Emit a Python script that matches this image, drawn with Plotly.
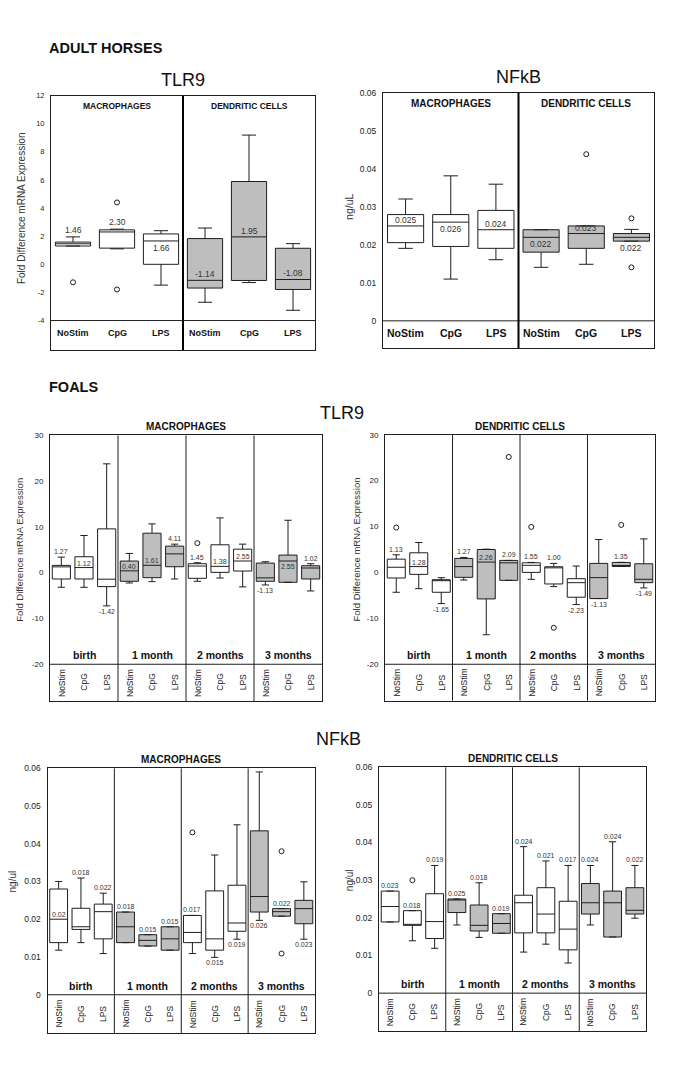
import plotly.graph_objects as go

W, H = 685, 1088
FONT = "Liberation Sans, Arial, sans-serif"
GRAY = "#bebebe"
INK = "#1e1e1e"

# ---------------- DATA ----------------
adult_cats = ["NoStim", "CpG", "LPS", "NoStim", "CpG", "LPS"]
adult_sections = ["MACROPHAGES", "DENDRITIC CELLS"]
foal_groups = ["birth", "1 month", "2 months", "3 months"]
foal_cats = ["NoStim", "CpG", "LPS"]

# Adult horses - TLR9 (fold difference)
a_tlr9_q1 = [1.30, 1.15, 0.00, -1.69, -1.15, -1.79]
a_tlr9_med = [1.46, 2.30, 1.66, -1.14, 1.95, -1.08]
a_tlr9_q3 = [1.58, 2.45, 2.16, 1.83, 5.89, 1.14]
a_tlr9_lo = [1.30, 1.10, -1.48, -2.70, -1.30, -3.27]
a_tlr9_hi = [1.95, 2.50, 2.39, 2.58, 9.19, 1.47]
a_tlr9_out_idx = [0, 1, 1]
a_tlr9_out_val = [-1.28, 4.40, -1.79]
a_tlr9_labels = ["1.46", "2.30", "1.66", "-1.14", "1.95", "-1.08"]
a_tlr9_ticks = [12, 10, 8, 6, 4, 2, 0, -2, -4]

# Adult horses - NFkB (ng/uL)
a_nfkb_q1 = [0.0206, 0.0196, 0.0191, 0.0181, 0.0191, 0.0210]
a_nfkb_med = [0.025, 0.026, 0.024, 0.022, 0.023, 0.022]
a_nfkb_q3 = [0.0280, 0.0280, 0.0291, 0.0240, 0.0250, 0.0230]
a_nfkb_lo = [0.0191, 0.0110, 0.0161, 0.0141, 0.0149, 0.0210]
a_nfkb_hi = [0.0321, 0.0382, 0.0360, 0.0240, 0.0250, 0.0241]
a_nfkb_out_idx = [4, 5, 5]
a_nfkb_out_val = [0.0439, 0.0270, 0.0141]
a_nfkb_labels = ["0.025", "0.026", "0.024", "0.022", "0.023", "0.022"]
nfkb_ticks = [0.06, 0.05, 0.04, 0.03, 0.02, 0.01, 0]

# Foals - TLR9 macrophages
f_tlr9_mac_q1 = [-1.38, -1.38, -3.04, -1.88, -1.09, 1.30, -1.23, 0.07, 0.36, -1.88, -2.10, -1.38]
f_tlr9_mac_med = [1.27, 1.12, -1.42, 0.40, 1.61, 4.11, 1.45, 1.38, 2.55, -1.13, 2.55, 1.02]
f_tlr9_mac_q3 = [1.59, 3.48, 9.57, 2.54, 8.62, 5.80, 1.96, 6.09, 5.14, 2.10, 3.84, 1.52]
f_tlr9_mac_lo = [-3.19, -3.19, -7.25, -2.25, -1.96, -1.38, -1.88, -1.16, -3.10, -2.68, -2.10, -3.99]
f_tlr9_mac_hi = [3.40, 8.12, 23.77, 4.20, 10.65, 6.23, 2.17, 11.96, 6.23, 2.39, 11.45, 1.96]
f_tlr9_mac_out_idx = [6]
f_tlr9_mac_out_val = [6.45]
f_tlr9_mac_labels = ["1.27", "1.12", "-1.42", "0.40", "1.61", "4.11", "1.45", "1.38", "2.55", "-1.13", "2.55", "1.02"]

# Foals - TLR9 dendritic cells
f_tlr9_dc_q1 = [-1.21, -0.42, -4.32, -1.07, -5.77, -1.72, 0.01, -2.51, -5.40, -5.69, 1.31, -2.23]
f_tlr9_dc_med = [1.13, 1.28, -1.65, 1.27, 2.26, 2.09, 1.55, 1.00, -2.23, -1.13, 1.35, -1.49]
f_tlr9_dc_q3 = [2.90, 4.28, -1.58, 3.05, 5.00, 2.62, 2.10, 1.24, -1.36, 1.97, 2.18, 1.89]
f_tlr9_dc_lo = [-4.32, -3.53, -6.78, -1.65, -13.57, -1.72, -1.50, -3.09, -7.00, -5.69, 1.31, -3.38]
f_tlr9_dc_hi = [3.84, 6.52, -1.14, 3.27, 5.07, 2.62, 2.18, 1.97, 1.39, 7.17, 2.20, 7.31]
f_tlr9_dc_out_idx = [0, 5, 6, 7, 10]
f_tlr9_dc_out_val = [9.77, 25.16, 9.91, -12.05, 10.35]
f_tlr9_dc_labels = ["1.13", "1.28", "-1.65", "1.27", "2.26", "2.09", "1.55", "1.00", "-2.23", "-1.13", "1.35", "-1.49"]
tlr9_foal_ticks = [30, 20, 10, 0, -10, -20]

# Foals - NFkB macrophages
f_nfkb_mac_q1 = [0.0138, 0.0173, 0.0148, 0.0138, 0.0129, 0.0118, 0.0138, 0.0118, 0.0168, 0.0219, 0.0208, 0.0188]
f_nfkb_mac_med = [0.020, 0.018, 0.022, 0.018, 0.0144, 0.0148, 0.0165, 0.0148, 0.019, 0.026, 0.022, 0.0228]
f_nfkb_mac_q3 = [0.0280, 0.0229, 0.0240, 0.0219, 0.0159, 0.0180, 0.0210, 0.0275, 0.0290, 0.0434, 0.0228, 0.0250]
f_nfkb_mac_lo = [0.0118, 0.0138, 0.0109, 0.0138, 0.0129, 0.0118, 0.0109, 0.0099, 0.0147, 0.0197, 0.0208, 0.0147]
f_nfkb_mac_hi = [0.0300, 0.0309, 0.0269, 0.0219, 0.0159, 0.0180, 0.0210, 0.0370, 0.0450, 0.0590, 0.0228, 0.0299]
f_nfkb_mac_out_idx = [6, 10, 10]
f_nfkb_mac_out_val = [0.0430, 0.0380, 0.0109]
f_nfkb_mac_labels = ["0.02", "0.018", "0.022", "0.018", "0.015", "0.015", "0.017", "0.015", "0.019", "0.026", "0.022", "0.023"]

# Foals - NFkB dendritic cells
f_nfkb_dc_q1 = [0.0189, 0.0180, 0.0145, 0.0214, 0.0165, 0.0159, 0.0160, 0.0160, 0.0115, 0.0210, 0.0149, 0.0210]
f_nfkb_dc_med = [0.023, 0.018, 0.019, 0.025, 0.018, 0.0185, 0.024, 0.021, 0.017, 0.024, 0.024, 0.022]
f_nfkb_dc_q3 = [0.0271, 0.0219, 0.0264, 0.0250, 0.0234, 0.0211, 0.0260, 0.0280, 0.0244, 0.0291, 0.0271, 0.0280]
f_nfkb_dc_lo = [0.0189, 0.0139, 0.0119, 0.0181, 0.0148, 0.0159, 0.0109, 0.0130, 0.0080, 0.0181, 0.0149, 0.0199]
f_nfkb_dc_hi = [0.0271, 0.0219, 0.0339, 0.0250, 0.0293, 0.0211, 0.0389, 0.0351, 0.0339, 0.0339, 0.0402, 0.0339]
f_nfkb_dc_out_idx = [1]
f_nfkb_dc_out_val = [0.0300]
f_nfkb_dc_labels = ["0.023", "0.018", "0.019", "0.025", "0.018", "0.019", "0.024", "0.021", "0.017", "0.024", "0.024", "0.022"]

# label placement relative to the box (style hints)
a_tlr9_lpos = ["top", "top", "med_dn", "med_up", "med_up", "med_up"]
a_nfkb_lpos = ["med_up", "med_dn", "med_up", "med_dn", "med_up", "bot"]
f_tlr9_mac_lpos = ["top", "med_up", "bot", "med_up", "med_up", "top", "top", "med_up", "med_up", "bot", "med_dn", "top"]
f_tlr9_dc_lpos = ["top", "med_up", "bot", "top", "med_up", "top", "top", "top", "bot", "bot", "top", "bot"]
f_nfkb_mac_lpos = ["med_up", "top", "top", "top", "top", "top", "top", "bot", "bot", "bot", "top", "bot"]
f_nfkb_dc_lpos = ["top"] * 12

# ---------------- PANELS (pixel geometry) ----------------
adult_fill = ["white"] * 3 + [GRAY] * 3
foal_fill = [("white" if (i // 3) % 2 == 0 else GRAY) for i in range(12)]


def fmt_tick(v):
    if isinstance(v, float):
        return ("%g" % v)
    return str(v)


panels = [
    dict(kind="adult", left=51, right=315, top=91, base=317, bottom=347, vtop=12, vbase=-4,
         q1=a_tlr9_q1, med=a_tlr9_med, q3=a_tlr9_q3, lo=a_tlr9_lo, hi=a_tlr9_hi,
         oi=a_tlr9_out_idx, ov=a_tlr9_out_val, labels=a_tlr9_labels, lpos=a_tlr9_lpos,
         ticks=a_tlr9_ticks, tfs=7.5, lfs=8.5, cfs=9, sfs=8.5,
         ytitle="Fold Difference mRNA Expression", ytx=21, yty=4, ytfs=10),
    dict(kind="adult", left=383, right=654, top=88.5, base=317.3, bottom=345, vtop=0.06, vbase=0,
         q1=a_nfkb_q1, med=a_nfkb_med, q3=a_nfkb_q3, lo=a_nfkb_lo, hi=a_nfkb_hi,
         oi=a_nfkb_out_idx, ov=a_nfkb_out_val, labels=a_nfkb_labels, lpos=a_nfkb_lpos,
         ticks=nfkb_ticks, tfs=8.5, lfs=8.5, cfs=10.5, sfs=10,
         ytitle="ng/uL", ytx=349, yty=0.03, ytfs=10.5),
    dict(kind="foal", left=50, right=322, top=432.3, base=662.3, bottom=699.3, vtop=30, vbase=-20,
         q1=f_tlr9_mac_q1, med=f_tlr9_mac_med, q3=f_tlr9_mac_q3, lo=f_tlr9_mac_lo, hi=f_tlr9_mac_hi,
         oi=f_tlr9_mac_out_idx, ov=f_tlr9_mac_out_val, labels=f_tlr9_mac_labels, lpos=f_tlr9_mac_lpos,
         ticks=tlr9_foal_ticks, tfs=8, lfs=7, cfs=8.5, sfs=10, section="MACROPHAGES",
         ytitle="Fold Difference mRNA Expression", ytx=20, yty=5, ytfs=9.5),
    dict(kind="foal", left=385, right=655, top=431.7, base=662.3, bottom=699, vtop=30, vbase=-20,
         q1=f_tlr9_dc_q1, med=f_tlr9_dc_med, q3=f_tlr9_dc_q3, lo=f_tlr9_dc_lo, hi=f_tlr9_dc_hi,
         oi=f_tlr9_dc_out_idx, ov=f_tlr9_dc_out_val, labels=f_tlr9_dc_labels, lpos=f_tlr9_dc_lpos,
         ticks=tlr9_foal_ticks, tfs=8, lfs=7, cfs=8.5, sfs=10, section="DENDRITIC CELLS",
         ytitle="Fold Difference mRNA Expression", ytx=356, yty=5, ytfs=9.5),
    dict(kind="foal", left=47.5, right=315, top=766.7, base=994.3, bottom=1032.7, vtop=0.06, vbase=0,
         q1=f_nfkb_mac_q1, med=f_nfkb_mac_med, q3=f_nfkb_mac_q3, lo=f_nfkb_mac_lo, hi=f_nfkb_mac_hi,
         oi=f_nfkb_mac_out_idx, ov=f_nfkb_mac_out_val, labels=f_nfkb_mac_labels, lpos=f_nfkb_mac_lpos,
         ticks=nfkb_ticks, tfs=8.5, lfs=7, cfs=8.5, sfs=10, section="MACROPHAGES",
         ytitle="ng/ul", ytx=12, yty=0.03, ytfs=10),
    dict(kind="foal", left=379, right=646, top=765.7, base=992.7, bottom=1031, vtop=0.06, vbase=0,
         q1=f_nfkb_dc_q1, med=f_nfkb_dc_med, q3=f_nfkb_dc_q3, lo=f_nfkb_dc_lo, hi=f_nfkb_dc_hi,
         oi=f_nfkb_dc_out_idx, ov=f_nfkb_dc_out_val, labels=f_nfkb_dc_labels, lpos=f_nfkb_dc_lpos,
         ticks=nfkb_ticks, tfs=8.5, lfs=7, cfs=8.5, sfs=10, section="DENDRITIC CELLS",
         ytitle="ng/ul", ytx=349, yty=0.03, ytfs=10),
]

fig = go.Figure()
axes = {}
annotations = []
shapes = []

for k, P in enumerate(panels, start=1):
    xa = "x" if k == 1 else f"x{k}"
    ya = "y" if k == 1 else f"y{k}"
    n = len(P["q1"])
    ppu = (P["base"] - P["top"]) / (P["vtop"] - P["vbase"])
    vbot = P["vbase"] - (P["bottom"] - P["base"]) / ppu

    axes[f"xaxis{k}"] = dict(domain=[P["left"] / W, P["right"] / W], range=[0, n],
                             showticklabels=False, showgrid=False, zeroline=False,
                             showline=True, mirror=True, linecolor=INK, linewidth=1,
                             ticks="", anchor=ya, fixedrange=True)
    axes[f"yaxis{k}"] = dict(domain=[1 - P["bottom"] / H, 1 - P["top"] / H], range=[vbot, P["vtop"]],
                             tickvals=P["ticks"], ticktext=[fmt_tick(v) for v in P["ticks"]],
                             showgrid=False, zeroline=False, showline=True, mirror=True,
                             linecolor=INK, linewidth=1, ticks="outside", ticklen=4,
                             tickcolor="rgba(0,0,0,0)",
                             tickfont=dict(size=P["tfs"], color="#222", family=FONT),
                             anchor=xa, fixedrange=True)

    fills = adult_fill if P["kind"] == "adult" else foal_fill
    for i in range(n):
        fig.add_trace(go.Box(
            x=[i + 0.5], q1=[P["q1"][i]], median=[P["med"][i]], q3=[P["q3"][i]],
            lowerfence=[P["lo"][i]], upperfence=[P["hi"][i]],
            width=0.8, whiskerwidth=0.4, fillcolor=fills[i],
            line=dict(color=INK, width=1), boxpoints=False,
            xaxis=xa, yaxis=ya, showlegend=False, hoverinfo="skip"))
    fig.add_trace(go.Scatter(
        x=[j + 0.5 for j in P["oi"]], y=P["ov"], mode="markers",
        marker=dict(symbol="circle-open", size=5, color=INK, line=dict(width=1)),
        xaxis=xa, yaxis=ya, showlegend=False, hoverinfo="skip"))

    # median labels
    for i in range(n):
        mode = P["lpos"][i]
        if mode == "top":
            yv, anc, sh = P["hi"][i], "bottom", 0
        elif mode == "med_up":
            yv, anc, sh = P["med"][i], "bottom", -1
        elif mode == "med_dn":
            yv, anc, sh = P["med"][i], "top", 0
        else:
            yv, anc, sh = P["lo"][i], "top", 0
        annotations.append(dict(x=i + 0.5, y=yv, xref=xa, yref=ya, text=P["labels"][i],
                                showarrow=False, xanchor="center", yanchor=anc, yshift=sh,
                                font=dict(size=P["lfs"], color="#333", family=FONT)))

    # baseline separating the category strip
    shapes.append(dict(type="line", xref=xa, yref=ya, x0=0, x1=n, y0=P["vbase"], y1=P["vbase"],
                       line=dict(color=INK, width=1)))

    ymid = (P["vbase"] + vbot) / 2
    if P["kind"] == "adult":
        shapes.append(dict(type="line", xref=xa, yref=ya, x0=3, x1=3, y0=vbot, y1=P["vtop"],
                           line=dict(color="black", width=2)))
        for i, c in enumerate(adult_cats):
            annotations.append(dict(x=i + 0.5, y=ymid, xref=xa, yref=ya, text=f"<b>{c}</b>",
                                    showarrow=False, xanchor="center", yshift=2,
                                    font=dict(size=P["cfs"], color="#111", family=FONT)))
        for s, name in enumerate(adult_sections):
            annotations.append(dict(x=3 * s + 1.5, y=P["vtop"], xref=xa, yref=ya,
                                    text=f"<b>{name}</b>", showarrow=False, xanchor="center",
                                    yanchor="top", yshift=-3,
                                    font=dict(size=P["sfs"], color="#111", family=FONT)))
    else:
        for g in (3, 6, 9):
            shapes.append(dict(type="line", xref=xa, yref=ya, x0=g, x1=g, y0=vbot, y1=P["vtop"],
                               line=dict(color=INK, width=1)))
        for g, name in enumerate(foal_groups):
            annotations.append(dict(x=3 * g + 1.5, y=P["vbase"], xref=xa, yref=ya,
                                    text=f"<b>{name}</b>", showarrow=False, xanchor="center",
                                    yanchor="bottom", yshift=1,
                                    font=dict(size=10.5, color="#111", family=FONT)))
        for i in range(n):
            annotations.append(dict(x=i + 0.5, y=ymid, xref=xa, yref=ya, text=foal_cats[i % 3],
                                    showarrow=False, textangle=-90, xanchor="center",
                                    font=dict(size=P["cfs"], color="#222", family=FONT)))
        annotations.append(dict(x=n / 2, y=P["vtop"], xref=xa, yref=ya,
                                text=f"<b>{P['section']}</b>", showarrow=False, xanchor="center",
                                yanchor="bottom", yshift=1,
                                font=dict(size=P["sfs"], color="#111", family=FONT)))

    annotations.append(dict(x=P["ytx"] / W, y=P["yty"], xref="paper", yref=ya, text=P["ytitle"],
                            showarrow=False, textangle=-90, xanchor="center", yanchor="middle",
                            font=dict(size=P["ytfs"], color="#333", family=FONT)))

# headings
heads = [
    ("<b>ADULT HORSES</b>", 47, 43, "left", 14.5),
    ("TLR9", 183, 75, "center", 18),
    ("NFkB", 518, 72, "center", 18),
    ("<b>FOALS</b>", 47, 384, "left", 14.5),
    ("TLR9", 342, 410, "center", 18),
    ("NFkB", 338, 737, "center", 18),
]
for txt, x, y, anc, fs in heads:
    annotations.append(dict(x=x / W, y=1 - y / H, xref="paper", yref="paper", text=txt,
                            showarrow=False, xanchor=anc, yanchor="middle",
                            font=dict(size=fs, color="#111", family=FONT)))

fig.update_layout(
    width=W, height=H, margin=dict(l=0, r=0, t=0, b=0),
    paper_bgcolor="white", plot_bgcolor="white",
    boxmode="overlay", showlegend=False, hovermode=False,
    annotations=annotations, shapes=shapes,
    font=dict(family=FONT), **axes)

fig.write_html("out.html",
               config={"displayModeBar": False, "staticPlot": True},
               post_script="document.body.style.margin='0px';document.body.style.overflow='hidden';")
